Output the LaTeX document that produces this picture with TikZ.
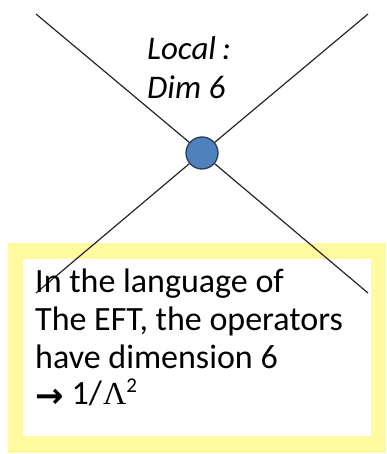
\documentclass[tikz,border=0pt]{standalone}
\usepackage{fontspec}
\setmainfont{Carlito}
\newfontfamily\serifpart{Liberation Serif}
\newfontfamily\arrowfont{DejaVu Sans Bold}
\definecolor{boxyellow}{RGB}{255,250,160}
\definecolor{vtxfill}{RGB}{79,129,189}
\definecolor{vtxline}{RGB}{40,60,90}
\begin{document}
\begin{tikzpicture}[x=1pt,y=-1pt,
  leg/.style={draw=black!85,line width=1.2pt},
  vertex/.style={circle,fill=vtxfill,draw=vtxline,line width=1.3pt,minimum size=32pt,inner sep=0pt},
  bodytext/.style={font=\fontsize{34}{38}\selectfont,inner sep=0pt,anchor=base west},
  labeltext/.style={font=\fontsize{33}{38}\selectfont\itshape,inner sep=0pt,anchor=base west}]
\useasboundingbox (0,0) rectangle (386,454);
\fill[boxyellow] (8,243) rectangle (386,453);
\fill[white] (23,259) rectangle (371,436);
\coordinate (tl) at (36,14);
\coordinate (tr) at (368,14);
\coordinate (bl) at (36,293);
\coordinate (br) at (368,293);
\node[vertex] (v) at (202,153) {};
\draw[leg] (tl) -- (v);
\draw[leg] (v) -- (br);
\draw[leg] (tr) -- (v);
\draw[leg] (v) -- (bl);
\node[labeltext] (loc) at (147,60) {Local\hspace{6pt}:};
\node[labeltext] (dim) at (147,99) {Dim 6};
\node[bodytext] (l1) at (35,292) {In the language of};
\node[bodytext] (l2) at (35,330) {The EFT, the operators};
\node[bodytext] (l3) at (35,368) {have dimension 6};
\node[bodytext] (l4) at (35,404) {\raisebox{-3pt}{\arrowfont\fontsize{34}{38}\selectfont →}\hspace{8pt}1/\hspace{1pt}{\serifpart\fontsize{32}{38}\selectfont Λ}\raisebox{12pt}{\fontsize{21}{24}\selectfont 2}};
\end{tikzpicture}
\end{document}
